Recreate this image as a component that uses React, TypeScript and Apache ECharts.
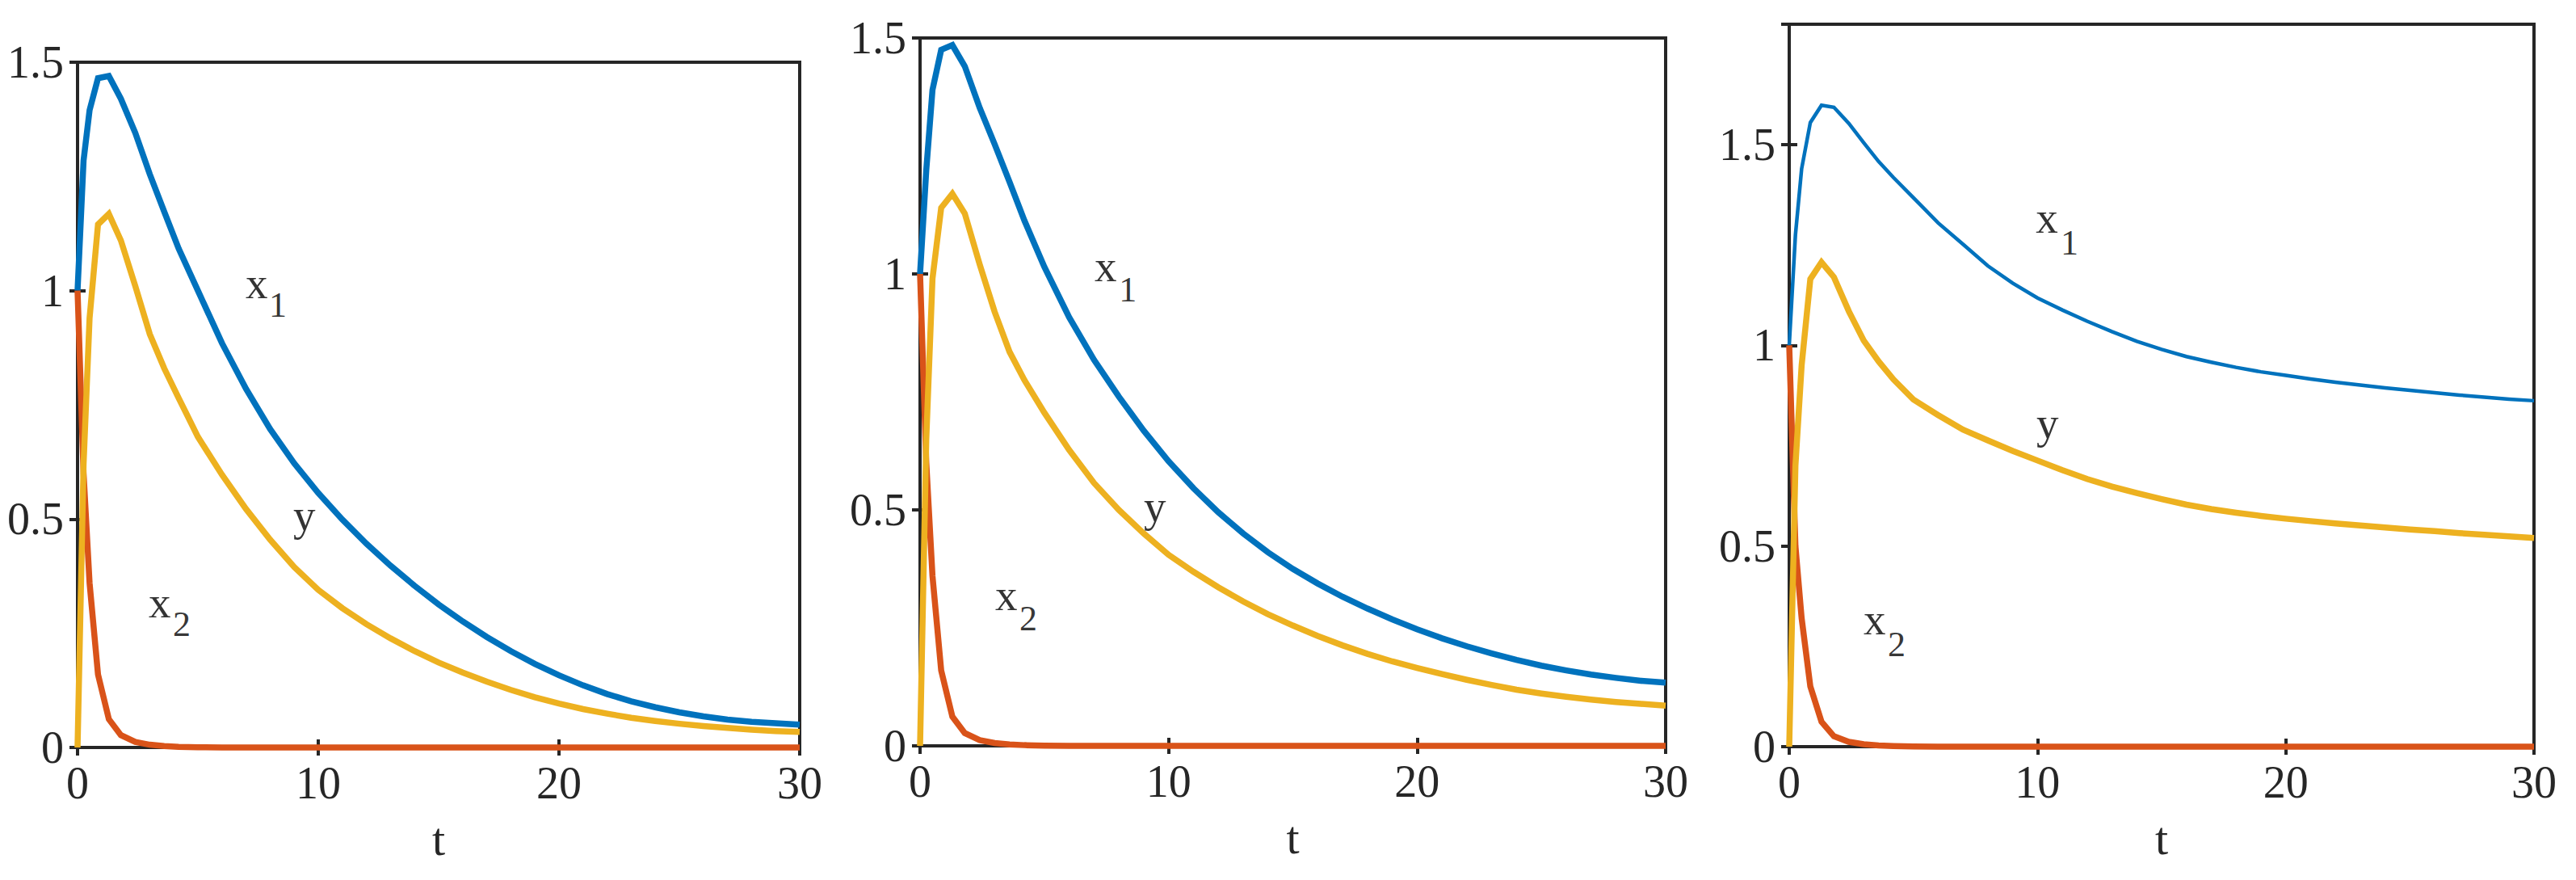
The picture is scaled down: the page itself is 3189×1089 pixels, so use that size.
import React, { useEffect, useRef } from 'react';
import * as echarts from 'echarts';

// time samples (shared by all curves)
const T = [0, 0.25, 0.5, 0.85, 1.3, 1.8, 2.4, 3.0, 3.6, 4.2, 5, 6, 7, 8, 9, 10, 11, 12, 13, 14, 15, 16, 17, 18, 19, 20, 21, 22, 23, 24, 25, 26, 27, 28, 29, 30];

// panel 1
const x1P1 = [1.0, 1.285, 1.395, 1.465, 1.47, 1.42, 1.345, 1.255, 1.173, 1.092, 1.0, 0.885, 0.785, 0.697, 0.622, 0.557, 0.499, 0.446, 0.398, 0.354, 0.313, 0.276, 0.242, 0.211, 0.183, 0.158, 0.136, 0.117, 0.101, 0.088, 0.077, 0.068, 0.061, 0.056, 0.053, 0.05];
const x2P1 = [1, 0.6, 0.36, 0.16, 0.062, 0.027, 0.012, 0.006, 0.003, 0.0015, 0.0006, 0.0002, 0, 0, 0, 0, 0, 0, 0, 0, 0, 0, 0, 0, 0, 0, 0, 0, 0, 0, 0, 0, 0, 0, 0, 0];
const yP1 = [0, 0.62, 0.94, 1.145, 1.168, 1.11, 1.01, 0.905, 0.83, 0.765, 0.68, 0.597, 0.522, 0.455, 0.395, 0.345, 0.305, 0.27, 0.239, 0.211, 0.186, 0.164, 0.144, 0.126, 0.11, 0.096, 0.084, 0.074, 0.065, 0.058, 0.052, 0.047, 0.043, 0.039, 0.036, 0.034];

// panel 2
const x1P2 = [1.0, 1.22, 1.39, 1.475, 1.485, 1.44, 1.352, 1.275, 1.195, 1.113, 1.015, 0.908, 0.818, 0.74, 0.668, 0.603, 0.546, 0.495, 0.45, 0.41, 0.375, 0.344, 0.316, 0.291, 0.268, 0.247, 0.228, 0.211, 0.196, 0.182, 0.17, 0.16, 0.151, 0.144, 0.138, 0.134];
const x2P2 = [1, 0.6, 0.36, 0.16, 0.062, 0.027, 0.012, 0.006, 0.003, 0.0015, 0.0006, 0.0002, 0, 0, 0, 0, 0, 0, 0, 0, 0, 0, 0, 0, 0, 0, 0, 0, 0, 0, 0, 0, 0, 0, 0, 0];
const yP2 = [0, 0.65, 0.99, 1.14, 1.17, 1.128, 1.02, 0.92, 0.835, 0.775, 0.706, 0.627, 0.557, 0.5, 0.45, 0.405, 0.369, 0.336, 0.306, 0.279, 0.255, 0.233, 0.213, 0.195, 0.179, 0.165, 0.152, 0.14, 0.129, 0.119, 0.111, 0.104, 0.098, 0.093, 0.089, 0.085];

// panel 3
const x1P3 = [1.0, 1.275, 1.44, 1.555, 1.598, 1.593, 1.553, 1.505, 1.458, 1.418, 1.368, 1.305, 1.252, 1.198, 1.155, 1.118, 1.088, 1.06, 1.034, 1.01, 0.99, 0.972, 0.958, 0.945, 0.934, 0.925, 0.916, 0.908, 0.901, 0.894, 0.888, 0.882, 0.876, 0.871, 0.866, 0.862];
const x2P3 = [1, 0.5, 0.32, 0.15, 0.062, 0.026, 0.012, 0.006, 0.003, 0.0015, 0.0005, 0.0002, 0, 0, 0, 0, 0, 0, 0, 0, 0, 0, 0, 0, 0, 0, 0, 0, 0, 0, 0, 0, 0, 0, 0, 0];
const yP3 = [0, 0.7, 0.95, 1.165, 1.207, 1.17, 1.085, 1.012, 0.96, 0.915, 0.865, 0.826, 0.79, 0.763, 0.737, 0.713, 0.689, 0.667, 0.648, 0.632, 0.617, 0.603, 0.592, 0.583, 0.575, 0.568, 0.562, 0.556, 0.551, 0.546, 0.541, 0.537, 0.532, 0.528, 0.524, 0.52];

// axis ranges / ticks
const X_MAX = 30;
const X_INTERVAL = 10;
const Y_MAX = [1.5, 1.5, 1.8];
const Y_INTERVAL = 0.5;

// curve annotations: text and [t, value] anchor (x, subscript, y, x, subscript)
const LABEL_TEXT = ['x', '1', 'y', 'x', '2'];
const LABEL_IS_SUB = [false, true, false, false, true];
const LABEL_POS_P1 = [[6.98, 1.017], [7.95, 0.969], [8.96, 0.509], [2.95, 0.318], [3.96, 0.269]];
const LABEL_POS_P2 = [[7.02, 1.017], [8.0, 0.966], [9.0, 0.507], [3.02, 0.32], [4.0, 0.269]];
const LABEL_POS_P3 = [[9.93, 1.317], [10.93, 1.255], [9.96, 0.806], [2.99, 0.318], [3.97, 0.255]];

const BLUE = '#0072BD';
const RED = '#D95319';
const YELLOW = '#EDB120';
const AXIS = '#262626';
const FONT = '"Liberation Serif", "Times New Roman", Times, serif';

const panels = [
  { x1: x1P1, x2: x2P1, y: yP1, labels: LABEL_POS_P1, blueWidth: 7.5 },
  { x1: x1P2, x2: x2P2, y: yP2, labels: LABEL_POS_P2, blueWidth: 7.5 },
  { x1: x1P3, x2: x2P3, y: yP3, labels: LABEL_POS_P3, blueWidth: 4.5 },
];

const grids = [
  { left: 96, top: 77, width: 894, height: 848 },
  { left: 1139, top: 47, width: 923, height: 876 },
  { left: 2215, top: 30, width: 922, height: 894 },
];

function buildOption() {
  const tick = { show: true, inside: true, length: 10, lineStyle: { color: AXIS, width: 4 } };
  const xAxis: any[] = [];
  const yAxis: any[] = [];
  const series: any[] = [];
  panels.forEach((p, k) => {
    xAxis.push({
      type: 'value', gridIndex: k, position: 'bottom', min: 0, max: X_MAX, interval: X_INTERVAL,
      axisLine: { show: false }, axisTick: tick, splitLine: { show: false },
      axisLabel: { margin: 16, fontSize: 56, color: AXIS, fontFamily: FONT },
      name: 't', nameLocation: 'middle', nameGap: 84,
      nameTextStyle: { fontSize: 58, color: AXIS, fontFamily: FONT },
    });
    xAxis.push({
      type: 'value', gridIndex: k, position: 'top', min: 0, max: X_MAX, interval: X_INTERVAL,
      axisLine: { show: false }, axisTick: tick, splitLine: { show: false }, axisLabel: { show: false },
    });
    yAxis.push({
      type: 'value', gridIndex: k, position: 'left', min: 0, max: Y_MAX[k], interval: Y_INTERVAL,
      axisLine: { show: false }, axisTick: tick, splitLine: { show: false },
      axisLabel: {
        margin: 17, fontSize: 56, color: AXIS, fontFamily: FONT,
        formatter: (v: number) => (Math.abs(v / Y_INTERVAL - Math.round(v / Y_INTERVAL)) < 1e-9 ? String(v) : ''),
      },
    });
    yAxis.push({
      type: 'value', gridIndex: k, position: 'right', min: 0, max: Y_MAX[k], interval: Y_INTERVAL,
      axisLine: { show: false }, axisTick: tick, splitLine: { show: false }, axisLabel: { show: false },
    });
    const mk = (vals: number[], color: string, width: number, name: string) => ({
      type: 'line', name, xAxisIndex: 2 * k, yAxisIndex: 2 * k,
      data: T.map((t, i) => [t, vals[i]]),
      showSymbol: false, symbol: 'none', clip: false, silent: true,
      lineStyle: { color, width, cap: 'butt', join: 'miter' },
    });
    series.push(mk(p.x1, BLUE, p.blueWidth, 'x1'));
    series.push(mk(p.x2, RED, 7.5, 'x2'));
    series.push(mk(p.y, YELLOW, 7.5, 'y'));
    series.push({
      type: 'scatter', xAxisIndex: 2 * k, yAxisIndex: 2 * k, silent: true,
      symbolSize: 0.01, itemStyle: { color: 'rgba(0,0,0,0)' },
      data: p.labels.map((pos, i) => ({
        value: pos, name: LABEL_TEXT[i],
        label: { fontSize: LABEL_IS_SUB[i] ? 44 : 55 },
      })),
      label: {
        show: true, position: 'right', distance: 0, formatter: '{b}',
        color: '#000', fontFamily: FONT,
      },
      z: 5,
    });
  });
  return {
    animation: false,
    backgroundColor: '#ffffff',
    grid: grids.map((g) => ({
      ...g, show: true, borderColor: AXIS, borderWidth: 4, backgroundColor: 'rgba(0,0,0,0)', containLabel: false,
    })),
    xAxis, yAxis, series,
  };
}

export default function App() {
  const ref = useRef<HTMLDivElement>(null);
  useEffect(() => {
    document.body.style.margin = '0';
    if (!ref.current) return;
    const chart = echarts.init(ref.current, undefined, { renderer: 'svg' });
    chart.setOption(buildOption() as any);
    return () => chart.dispose();
  }, []);
  return <div ref={ref} style={{ width: 3189, height: 1089, background: '#fff' }} />;
}
